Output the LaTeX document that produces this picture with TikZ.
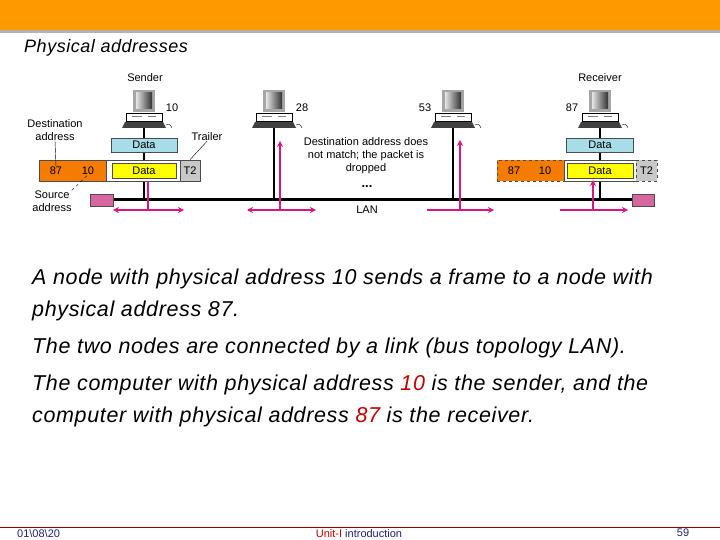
\documentclass[tikz,border=0pt]{standalone}
\usepackage{fontspec}
\setmainfont{Liberation Sans}
\newfontfamily\widefont[LetterSpace=3]{Liberation Sans}
\usetikzlibrary{arrows.meta}
\definecolor{hdr}{HTML}{FF9900}
\definecolor{mag}{HTML}{D6177F}
\definecolor{orng}{HTML}{F57C00}
\definecolor{lblue}{HTML}{A8DCE8}
\definecolor{yel}{HTML}{FFFF00}
\definecolor{gry}{HTML}{C8C8C8}
\definecolor{rd}{HTML}{C00000}
\definecolor{navy}{HTML}{1F1F7A}
\definecolor{pinkbox}{HTML}{D9679F}
\newcommand\pccomp[2]{%
  \fill[gray!70] (#1-11,90) rectangle (#1+11,112);
  \shade[left color=gray!20,right color=black!80] (#1-8,93) rectangle (#1+8,109);
  \draw[fill=white] (#1-18,113) rectangle (#1+18,121);
  \draw[gray] (#1-12,116) -- (#1-2,116) (#1+4,116)--(#1+12,116);
  \fill[black!75] (#1-19,122) -- (#1+19,122) -- (#1+22,128) -- (#1-22,128) -- cycle;
  \draw[thin] (#1+22,125) .. controls (#1+26,124) .. (#1+28,128);
  \coordinate (#2) at (#1,128);}
\tikzset{x=1pt,y=-1pt,
  lbl/.style={font=\fontsize{11}{13}\selectfont,inner sep=0pt,align=center},
  body/.style={font=\widefont\itshape\fontsize{21.5}{24}\selectfont,anchor=west,inner sep=0pt},
  pk/.style={mag,line width=1.3pt},
  tip/.style={-{Stealth[length=6pt,width=6pt]}},
  box/.style={draw=black!70,line width=0.6pt}}
\begin{document}
\begin{tikzpicture}
\useasboundingbox (0,0) rectangle (720,540);
\fill[white] (0,0) rectangle (720,540);
\fill[hdr] (0,0) rectangle (720,30);
\fill[gray!60] (0,30) rectangle (720,33);
\node[anchor=west,inner sep=0pt,font=\widefont\itshape\fontsize{18}{20}\selectfont] (title) at (24,48) {Physical addresses};
% computers
\pccomp{144}{c1}\pccomp{274}{c2}\pccomp{453}{c3}\pccomp{600}{c4}
\node[lbl] (snd) at (145,78) {Sender};
\node[lbl] (rcv) at (600,78) {Receiver};
\node[lbl] (a10) at (172,108) {10};
\node[lbl] (a28) at (302,108) {28};
\node[lbl] (a53) at (425,108) {53};
\node[lbl] (a87) at (572,108) {87};
% bus
\coordinate (busL) at (113,200); \coordinate (busR) at (632,200);
\draw[line width=3pt] (busL) -- (busR);
\draw[fill=pinkbox,draw=black!70] (90,194) rectangle (113,206);
\draw[fill=pinkbox,draw=black!70] (632,194) rectangle (654,206);
\foreach \c/\x in {c1/144,c2/274,c3/453,c4/600} \draw[line width=1.3pt] (\c) -- (\x,200);
% sender frame
\node[box,fill=lblue,minimum width=66pt,minimum height=14pt,inner sep=0pt,font=\fontsize{11}{13}\selectfont] (d1) at (144,145) {Data};
\node[box,fill=orng,minimum width=67pt,minimum height=21pt,inner sep=0pt] (h1) at (72.5,170.5) {};
\node[lbl] (h1a) at (56,170.5) {87};
\node[lbl] (h1b) at (88,170.5) {10};
\node[box,fill=white,minimum width=74pt,minimum height=21pt,inner sep=0pt] (w1) at (143,170.5) {};
\node[box,fill=yel,minimum width=64pt,minimum height=15pt,inner sep=0pt,font=\fontsize{11}{13}\selectfont] (y1) at (144,170.5) {Data};
\node[box,fill=gry,minimum width=20pt,minimum height=21pt,inner sep=0pt,font=\fontsize{11}{13}\selectfont] (t1) at (190,170.5) {T2};
\node[lbl] (dst) at (55,130) {Destination\\address};
\node[lbl] (trl) at (207,137) {Trailer};
\node[lbl] (src) at (52,201) {Source\\address};
\draw[thin] (dst.south) -- (h1a.north);
\draw[thin] (trl.south) -- (t1.north);
\draw[thin,dashed] (src.north east) -- (h1b.south);
% receiver frame
\node[box,fill=lblue,minimum width=67pt,minimum height=14pt,inner sep=0pt,font=\fontsize{11}{13}\selectfont] (d2) at (600,145) {Data};
\node[box,dashed,fill=orng,minimum width=67pt,minimum height=21pt,inner sep=0pt] (h2) at (530.5,170.5) {};
\node[lbl] (h2a) at (514,170.5) {87};
\node[lbl] (h2b) at (545,170.5) {10};
\node[box,fill=white,minimum width=72pt,minimum height=21pt,inner sep=0pt] (w2) at (600,170.5) {};
\node[box,fill=yel,minimum width=66pt,minimum height=15pt,inner sep=0pt,font=\fontsize{11}{13}\selectfont] (y2) at (600,170.5) {Data};
\node[box,dashed,fill=gry,minimum width=21pt,minimum height=21pt,inner sep=0pt,font=\fontsize{11}{13}\selectfont] (t2) at (646.5,170.5) {T2};
\node[lbl] (msg) at (366,156) {Destination address does\\not match; the packet is\\dropped};
\node[lbl,font=\bfseries\fontsize{13}{13}\selectfont] (dots) at (367,187) {...};
\node[lbl] (lan) at (367,210) {LAN};
% pink arrows
\coordinate (s1) at (148,181); \coordinate (s2) at (148,210);
\coordinate (s3) at (113,210); \coordinate (s4) at (184,210);
\draw[pk] (s1) -- (s2);
\draw[pk,tip] (s2) -- (s3); \draw[pk,tip] (s2) -- (s4);
\coordinate (p2) at (280,210);
\draw[pk,tip] (p2) -- (280,141); \draw[pk,tip] (248,210) -- (316,210); \draw[pk,tip] (282,210) -- (247,210);
\draw[pk,tip] (460,210) -- (460,140); \draw[pk,tip] (427,210) -- (494,210);
\draw[pk,tip] (593,210) -- (593,180); \draw[pk,tip] (560,210) -- (628,210);
% text
\node[body] (l1) at (32,279) {A node with physical address 10 sends a frame to a node with};
\node[body] (l2) at (32,311) {physical address 87.};
\node[body] (l3) at (32,348) {The two nodes are connected by a link (bus topology LAN).};
\node[body] (l4) at (32,385) {The computer with physical address \textcolor{rd}{10} is the sender, and the};
\node[body] (l5) at (32,417) {computer with physical address \textcolor{rd}{87} is the receiver.};
% footer
\draw[rd!80!black,line width=0.8pt] (0,527) -- (720,527);
\node[inner sep=0pt,anchor=west,navy,font=\fontsize{11}{13}\selectfont] (f1) at (17,534) {01\textbackslash 08\textbackslash 20};
\node[inner sep=0pt,font=\fontsize{11}{13}\selectfont] (f2) at (359,534) {\textcolor{rd}{Unit-I} \textcolor{navy}{introduction}};
\node[inner sep=0pt,navy,font=\fontsize{11}{13}\selectfont] (f3) at (683,533) {59};
\end{tikzpicture}
\end{document}
